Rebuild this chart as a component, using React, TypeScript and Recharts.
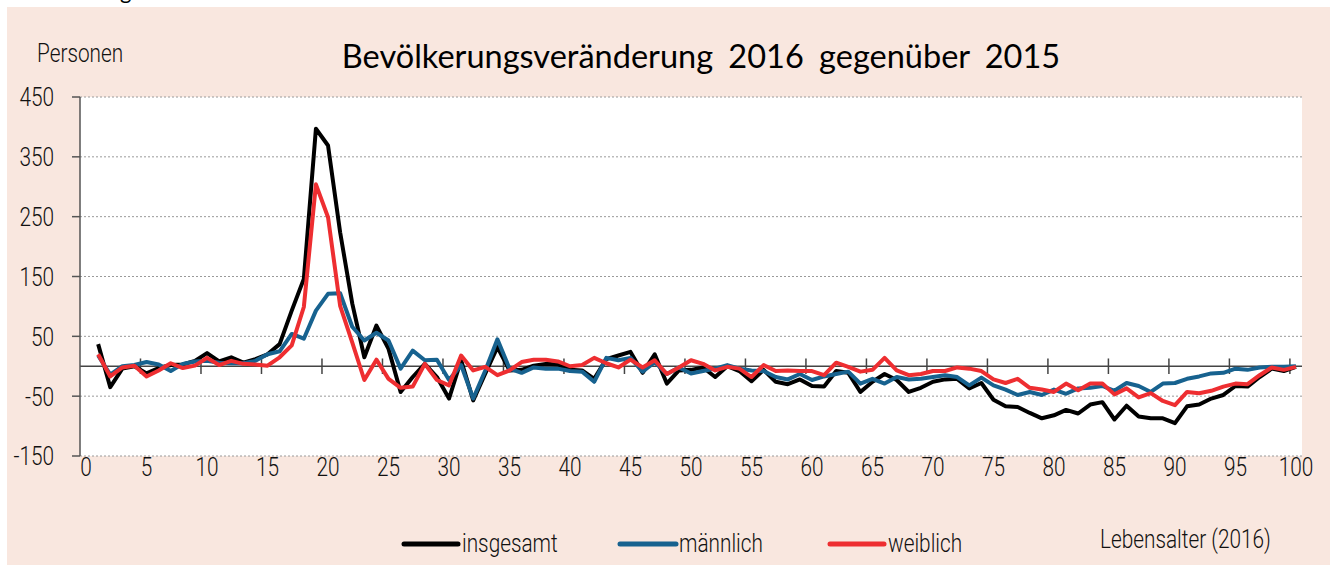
import React from 'react';
import { LineChart, Line, XAxis, YAxis, CartesianGrid, ReferenceLine } from 'recharts';

const ages = Array.from({ length: 100 }, (_, i) => i + 1);

const insgesamt = [
  37, -35, -4, 0, -12, -3, 2, 3, 9, 22,
  8, 15, 6, 12, 20, 37, 93, 146, 397, 369,
  224, 105, 15, 68, 29, -43, -18, 4, -18, -54,
  10, -57, -12, 32, -7, -6, 1, 4, 3, -6,
  -7, -21, 12, 18, 24, -11, 20, -29, -7, -6,
  -2, -18, 0, -8, -25, -6, -26, -30, -22, -33,
  -34, -8, -11, -43, -26, -13, -23, -43, -36, -26,
  -22, -21, -37, -28, -56, -67, -68, -78, -87, -82,
  -73, -79, -64, -60, -89, -66, -84, -87, -87, -95,
  -67, -64, -54, -48, -33, -34, -18, -4, -8, -1,
];

const maennlich = [
  18, -14, 0, 2, 7, 3, -8, 4, 8, 9,
  6, 5, 5, 9, 20, 25, 54, 46, 93, 121,
  122, 66, 43, 56, 43, -4, 26, 10, 11, -23,
  2, -54, -7, 45, -4, -11, -2, -4, -4, -8,
  -9, -26, 14, 10, 14, -9, 7, -13, -2, -12,
  -8, -4, 2, -4, -7, -8, -18, -22, -13, -23,
  -17, -13, -9, -29, -21, -29, -18, -22, -21, -18,
  -15, -18, -32, -19, -32, -39, -48, -43, -48, -39,
  -46, -37, -36, -33, -41, -28, -33, -43, -29, -28,
  -21, -17, -12, -11, -4, -6, -2, -1, -1, 0,
];

const weiblich = [
  20, -17, -2, 1, -17, -7, 5, -3, 1, 14,
  2, 9, 4, 3, 1, 15, 35, 99, 304, 249,
  101, 40, -23, 11, -21, -36, -34, 4, -23, -32,
  18, -7, -1, -15, -7, 7, 11, 11, 8, 0,
  2, 14, 5, -2, 11, -2, 10, -13, -2, 10,
  4, -7, -1, -4, -18, 2, -8, -7, -8, -8,
  -15, 6, -1, -9, -6, 14, -7, -15, -13, -8,
  -8, -2, -4, -8, -22, -28, -21, -36, -39, -43,
  -29, -40, -29, -29, -47, -37, -52, -45, -58, -65,
  -43, -45, -41, -34, -29, -30, -15, -2, -6, -1,
];

const xTicks = [0, 5, 10, 15, 20, 25, 30, 35, 40, 45, 50, 55, 60, 65, 70, 75, 80, 85, 90, 95, 100];
const yTicks = [-150, -50, 50, 150, 250, 350, 450];
const zeroLineTicks = [4.5, 9.5, 14.5, 19.5, 24.5, 29.5, 34.5, 39.5, 44.5, 49.5, 54.5, 59.5, 64.5, 69.5, 74.5, 79.5, 84.5, 89.5, 94.5, 99.5];

const series = [
  { key: 'insgesamt', label: 'insgesamt', color: '#000000' },
  { key: 'maennlich', label: 'männlich', color: '#17628F' },
  { key: 'weiblich', label: 'weiblich', color: '#EE2E31' },
];

const data = ages.map((age, i) => ({
  age,
  insgesamt: insgesamt[i],
  maennlich: maennlich[i],
  weiblich: weiblich[i],
}));

const FONT = 'Roboto, "Noto Sans", sans-serif';
const TITLE_FONT = 'Lato, "Noto Sans", sans-serif';
const SQUEEZE = 0.8;
const FS = 26;
const TXT = '#111111';

function Narrow({ x, y, anchor = 'start', dy, children }: any) {
  return (
    <text
      transform={`translate(${x},${y}) scale(${SQUEEZE},1)`}
      x={0}
      y={0}
      dy={dy}
      textAnchor={anchor}
      fontFamily={FONT}
      fontWeight={300}
      fontSize={FS}
      fill={TXT}
    >
      {children}
    </text>
  );
}

function XTick(props: any) {
  const { x, y, payload } = props;
  return <Narrow x={x} y={y} anchor="middle" dy="0.71em">{payload.value}</Narrow>;
}

function YTick(props: any) {
  const { x, y, payload } = props;
  return <Narrow x={x} y={y} anchor="end" dy="0.36em">{payload.value}</Narrow>;
}

const legendPos = [
  { x1: 404, x2: 458, tx: 462 },
  { x1: 620, x2: 676, tx: 679 },
  { x1: 830, x2: 884, tx: 888 },
];

export default function App() {
  return (
    <div style={{ position: 'absolute', left: 0, top: 0, width: 1336, height: 568, background: '#ffffff', overflow: 'hidden' }}>
      <div style={{ position: 'absolute', left: 7, top: 7, width: 1323, height: 558, background: '#F9E7DF' }} />
      <div style={{ position: 'absolute', left: 0, top: 0 }}>
        <LineChart width={1336} height={568} data={data} margin={{ top: 97, right: 34, bottom: 0, left: 0 }}>
          <CartesianGrid vertical={false} stroke="#9a9a9a" strokeDasharray="2 2" fill="#ffffff" />
          <XAxis
            dataKey="age"
            type="number"
            domain={[-0.5, 100.5]}
            ticks={xTicks}
            interval={0}
            axisLine={false}
            tickLine={false}
            tickSize={0}
            tickMargin={2}
            tick={<XTick />}
            height={112}
          />
          <YAxis
            type="number"
            domain={[-150, 450]}
            ticks={yTicks}
            interval={0}
            width={80}
            axisLine={{ stroke: '#555', strokeWidth: 1.5 }}
            tickLine={{ stroke: '#555', strokeWidth: 1.5 }}
            tickSize={8}
            tickMargin={18}
            tick={<YTick />}
          />
          <ReferenceLine y={0} stroke="#444" strokeWidth={1.5} />
          {zeroLineTicks.map((t) => (
            <ReferenceLine
              key={t}
              segment={[{ x: t, y: -13 }, { x: t, y: 13 }]}
              stroke="#444"
              strokeWidth={1.5}
            />
          ))}
          {series.map((s) => (
            <Line
              key={s.key}
              type="linear"
              dataKey={s.key}
              stroke={s.color}
              strokeWidth={4}
              dot={false}
              activeDot={false}
              strokeLinejoin="round"
              isAnimationActive={false}
            />
          ))}
        </LineChart>
      </div>
      <svg width={1336} height={568} style={{ position: 'absolute', left: 0, top: 0, pointerEvents: 'none' }}>
        <text x={120} y={-1} fontFamily={TITLE_FONT} fontSize={22} fill="#000">g</text>
        <Narrow x={37} y={62}>Personen</Narrow>
        <text x={701} y={68} textAnchor="middle" fontFamily={TITLE_FONT} fontSize={32.5} fontWeight={400} wordSpacing={7} fill="#000">
          Bevölkerungsveränderung 2016 gegenüber 2015
        </text>
        {series.map((s, i) => (
          <g key={s.key}>
            <line x1={legendPos[i].x1} x2={legendPos[i].x2} y1={544} y2={544} stroke={s.color} strokeWidth={5} strokeLinecap="round" />
            <Narrow x={legendPos[i].tx} y={552}>{s.label}</Narrow>
          </g>
        ))}
        <Narrow x={1100} y={548}>Lebensalter (2016)</Narrow>
      </svg>
    </div>
  );
}
